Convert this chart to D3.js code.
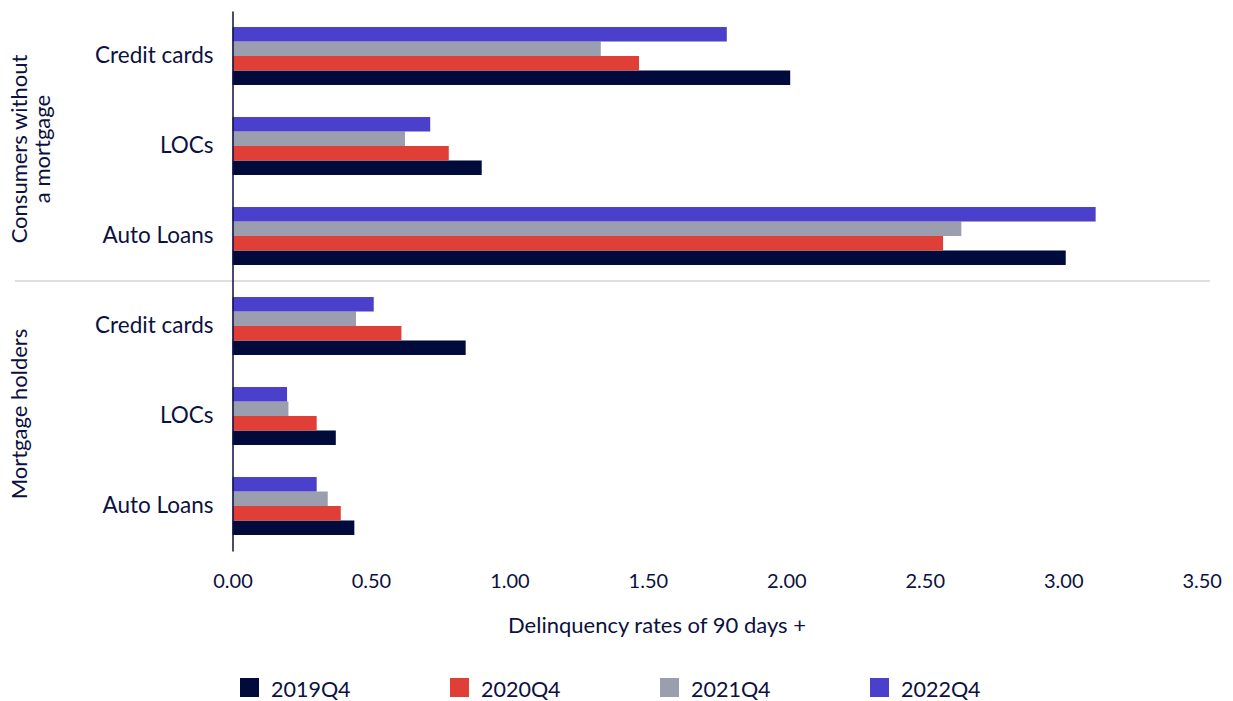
<!DOCTYPE html>
<html>
<head>
<meta charset="utf-8">
<script src="https://cdn.jsdelivr.net/npm/d3@7"></script>
<style>
  html, body { margin: 0; padding: 0; background: #ffffff; }
  svg { display: block; font-family: Lato, "Open Sans", sans-serif; }
</style>
</head>
<body>
<svg id="chart" width="1233" height="701"></svg>
<script>
// Borrower groups and the products listed within each group
const groupLabels = [["Consumers without", "a mortgage"], ["Mortgage holders"]];
const products = ["Credit cards", "LOCs", "Auto Loans"];
const seriesNames = ["2019Q4", "2020Q4", "2021Q4", "2022Q4"];
const seriesColors = ["#000a3b", "#e03f37", "#9a9eaf", "#4a40cb"];

// Delinquency rates of 90 days + (per cent), order: Credit cards, LOCs, Auto Loans
const noMortgage2019 = [2.014, 0.900, 3.009];
const noMortgage2020 = [1.468, 0.781, 2.566];
const noMortgage2021 = [1.330, 0.623, 2.632];
const noMortgage2022 = [1.785, 0.714, 3.117];
const mortgage2019 = [0.842, 0.373, 0.440];
const mortgage2020 = [0.610, 0.304, 0.391];
const mortgage2021 = [0.446, 0.202, 0.344];
const mortgage2022 = [0.510, 0.197, 0.304];

const xTickValues = [0, 0.5, 1, 1.5, 2, 2.5, 3, 3.5];
const xAxisTitle = "Delinquency rates of 90 days +";

const valuesByGroup = [
  [noMortgage2019, noMortgage2020, noMortgage2021, noMortgage2022],
  [mortgage2019, mortgage2020, mortgage2021, mortgage2022]
];

// One row per group/product pair
const rows = [];
valuesByGroup.forEach((seriesArrays, g) => {
  products.forEach((p, i) => {
    rows.push({
      key: g + "-" + i,
      group: g,
      label: p,
      values: seriesNames.map((s, k) => ({ series: s, color: seriesColors[k], value: seriesArrays[k][i] }))
    });
  });
});

const textColor = "#0b1140";
const svg = d3.select("#chart");

const x = d3.scaleLinear().domain([0, 3.5]).range([232.5, 1201.7]);
const y = d3.scaleBand()
  .domain(rows.map(r => r.key))
  .range([11, 551])
  .paddingInner(0.356)
  .paddingOuter(0.178);
// Latest year on top within each product
const ySub = d3.scaleBand()
  .domain(seriesNames.slice().reverse())
  .range([0, y.bandwidth()]);

// Separator between the two borrower groups
const sepY = (y(rows[2].key) + y.bandwidth() + y(rows[3].key)) / 2;
svg.append("line")
  .attr("x1", 15).attr("x2", 1210)
  .attr("y1", sepY).attr("y2", sepY)
  .attr("stroke", "#dddee2").attr("stroke-width", 2);

// Bars
const rowG = svg.append("g").selectAll("g")
  .data(rows).join("g")
  .attr("transform", d => `translate(0,${y(d.key)})`);
rowG.selectAll("rect")
  .data(d => d.values).join("rect")
  .attr("x", x(0))
  .attr("y", d => ySub(d.series))
  .attr("width", d => x(d.value) - x(0))
  .attr("height", ySub.bandwidth())
  .attr("fill", d => d.color);

// Category axis
const labelByKey = new Map(rows.map(r => [r.key, r.label]));
const yAxis = svg.append("g")
  .attr("transform", `translate(${x(0)},0)`)
  .call(d3.axisLeft(y).tickSize(0).tickPadding(19).tickFormat(k => labelByKey.get(k)));
yAxis.select(".domain").attr("stroke", textColor).attr("stroke-width", 1.5);
yAxis.selectAll("text")
  .attr("fill", textColor)
  .style("font-size", "22.5px")
  .style("font-family", "Lato, sans-serif");

// Value axis
const xAxis = svg.append("g")
  .attr("transform", "translate(0,551)")
  .call(d3.axisBottom(x).tickValues(xTickValues).tickSize(0).tickPadding(22.5).tickFormat(d3.format(".2f")));
xAxis.select(".domain").remove();
xAxis.selectAll("text")
  .attr("fill", textColor)
  .style("font-size", "20px")
  .style("font-family", "Lato, sans-serif");

svg.append("text")
  .attr("x", 657).attr("y", 633)
  .attr("text-anchor", "middle")
  .attr("fill", textColor)
  .style("font-size", "22px")
  .text(xAxisTitle);

// Rotated group titles
groupLabels.forEach((lines, g) => {
  const groupRows = rows.filter(r => r.group === g);
  const top = g === 0 ? 11 : sepY;
  const bottom = g === 0 ? sepY : 551;
  const cy = (top + bottom) / 2 + (g === 0 ? 3 : -2);
  const t = svg.append("text")
    .attr("transform", `translate(27,${cy}) rotate(-90)`)
    .attr("text-anchor", "middle")
    .attr("fill", textColor)
    .style("font-size", "22px");
  lines.forEach((line, i) => {
    t.append("tspan").attr("x", 0).attr("dy", i === 0 ? 0 : 23).text(line);
  });
});

// Legend
const legendX = d3.scalePoint().domain(seriesNames).range([240, 870]);
const legend = svg.append("g").selectAll("g")
  .data(seriesNames.map((s, k) => ({ name: s, color: seriesColors[k] })))
  .join("g")
  .attr("transform", d => `translate(${legendX(d.name)},678)`);
legend.append("rect")
  .attr("width", 19).attr("height", 19)
  .attr("fill", d => d.color);
legend.append("text")
  .attr("x", 31).attr("y", 18.5)
  .attr("fill", textColor)
  .style("font-size", "21.5px")
  .text(d => d.name);
</script>
</body>
</html>
